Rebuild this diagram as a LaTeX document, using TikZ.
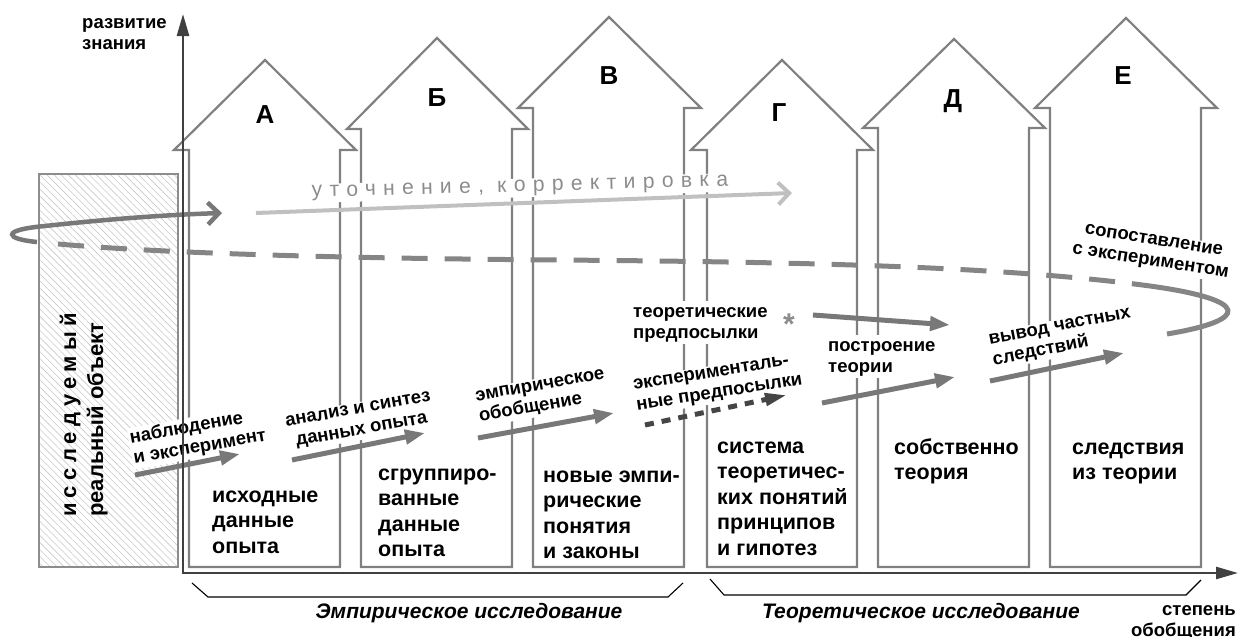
\documentclass[tikz,border=0pt]{standalone}
\usepackage{fontspec}
\setmainfont{Liberation Sans}
\usetikzlibrary{arrows.meta,patterns.meta}
\definecolor{wallc}{HTML}{808080}
\definecolor{axisc}{HTML}{404040}
\definecolor{arrc}{HTML}{787878}
\definecolor{dashc}{HTML}{858585}
\definecolor{lightc}{HTML}{C0C0C0}
\definecolor{darkdash}{HTML}{454545}
\definecolor{txtgray}{HTML}{8C8C8C}
\definecolor{hatchc}{HTML}{C8C8C8}
\newcommand\bodyfont{\fontsize{21.5}{25.6}\selectfont\bfseries}
\newcommand\lblfont{\fontsize{18.5}{21}\selectfont\bfseries}
\newcommand\letterfont{\fontsize{26}{30}\selectfont\bfseries}
\newcommand\objfont{\fontsize{22}{27}\selectfont\bfseries}
\newcommand\brfont{\fontsize{21}{25}\selectfont\bfseries\itshape}
\begin{document}
\begin{tikzpicture}[x=1pt,y=-1pt,
  wall/.style={draw=wallc, line width=2.2pt, line join=miter},
  bodytext/.style={anchor=north west, inner sep=0pt, align=left, font=\bodyfont},
  letter/.style={anchor=base, inner sep=0pt, font=\letterfont},
  lbl/.style={inner sep=0pt, align=left, font=\lblfont},
  rotlbl/.style={fill=white, inner sep=1.5pt, font=\lblfont},
  thickarrow/.style={draw=arrc, line width=5pt, -{Triangle[length=20pt,width=14pt]}},
  barbarrow/.style={-{Straight Barb[length=11pt,width=22pt]}},
  bracket/.style={draw=black, line width=1.1pt},
  ]
\useasboundingbox (0,0) rectangle (1240,637);

% studied real object
\draw[draw=wallc!90, line width=2pt, pattern={Lines[angle=-45,distance=5pt,line width=0.6pt]}, pattern color=hatchc] (39,174) rectangle (178,567);
\node[font=\objfont, rotate=90, anchor=north west, align=left, inner sep=0pt] (objtxt) at (57,517)
  {\strut{\addfontfeature{LetterSpace=24}исследуемый}\\реальный объект};

% houses
\draw[wall] (189,567) -- (189,150) -- (174,150) -- (265,60) -- (356,150) -- (340,150) -- (340,567) -- cycle;
\draw[wall] (361,567) -- (361,129) -- (347,129) -- (437,38) -- (528,129) -- (512,129) -- (512,567) -- cycle;
\draw[wall] (533,567) -- (533,108) -- (518,108) -- (609,17) -- (701,108) -- (684,108) -- (684,567) -- cycle;
\draw[wall] (707,567) -- (707,150) -- (691,150) -- (782,60) -- (873,150) -- (857,150) -- (857,567) -- cycle;
\draw[wall] (878,567) -- (878,128) -- (863,128) -- (954,39) -- (1045,128) -- (1029,128) -- (1029,567) -- cycle;
\draw[wall] (1050,567) -- (1050,108) -- (1035,108) -- (1126,18) -- (1217,108) -- (1201,108) -- (1201,567) -- cycle;

\node[letter] (LA) at (265,123) {А};
\node[letter] (LB) at (437,106) {Б};
\node[letter] (LV) at (609,84) {В};
\node[letter] (LG) at (779,121) {Г};
\node[letter] (LD) at (953,107) {Д};
\node[letter] (LE) at (1123,84) {Е};

\node[bodytext] (tA) at (212,484) {\strut исходные\\данные\\опыта};
\node[bodytext] (tB) at (378,462) {\strut сгруппиро-\\ванные\\данные\\опыта};
\node[bodytext] (tV) at (543,464) {\strut новые эмпи-\\рические\\понятия\\и законы};
\node[bodytext] (tG) at (717,435) {\strut система\\теоретичес-\\ких понятий\\принципов\\и гипотез};
\node[bodytext] (tD) at (894,436) {\strut собственно\\теория};
\node[bodytext] (tE) at (1072,436) {\strut следствия\\из теории};

% labels on white
\node[rotlbl, rotate=1.5, font=\fontsize{21}{24}\selectfont\addfontfeature{LetterSpace=35}, text=txtgray] (utoch) at (520,188) {уточнение,  корректировка};
\node[rotlbl, rotate=10, align=left] (nabl) at (198,437) {наблюдение\\и эксперимент};
\node[rotlbl, rotate=10, align=center] (anal) at (360,421) {анализ и синтез\\данных опыта};
\node[rotlbl, rotate=10, align=left] (empob) at (542,397) {эмпирическое\\обобщение};
\node[rotlbl, rotate=9, align=left] (exper) at (718,384) {эксперименталь-\\ные предпосылки};
\node[rotlbl, rotate=11, align=left] (vyvod) at (1062,338) {вывод частных\\следствий};
\node[rotlbl, rotate=-9, align=center] (sopost) at (1152,252) {сопоставление\\с экспериментом};
\node[lbl, anchor=north west, fill=white, inner sep=2pt] (teorpr) at (631,300.3) {\strut теоретические\\предпосылки};
\node[lbl, anchor=north west, fill=white, inner sep=2pt] (postr) at (826,334.3) {\strut построение\\теории};
\node[font=\fontsize{30}{30}\selectfont\bfseries, text=txtgray, anchor=base, inner sep=0pt] (ast) at (789,334) {*};

% cycle line
\coordinate (loopS) at (37,242);
\coordinate (loopE) at (222,213);
\draw[draw=arrc, line width=4.5pt, barbarrow] (loopS) .. controls (5,239) and (0,230) .. (45,226) .. controls (100,220) and (160,215) .. (loopE);
\coordinate (d0) at (58,244);
\coordinate (d1) at (560,260);
\coordinate (d2) at (1150,286);
\coordinate (d3) at (1167,334);
\draw[draw=dashc, line width=5pt, dash pattern=on 26pt off 17pt] (d0) .. controls (150,252) and (300,258) .. (d1) .. controls (800,262) and (1000,266) .. (d2);
\draw[draw=dashc, line width=5pt] (d2) .. controls (1251,300) and (1251,320) .. (d3);

\coordinate (u1) at (256,213);
\coordinate (u2) at (792,193);
\draw[draw=lightc, line width=4pt, barbarrow] (u1) -- (u2);

% process arrows
\coordinate (a1s) at (135,475); \coordinate (a1e) at (240,454);
\coordinate (a2s) at (292,460); \coordinate (a2e) at (425,433);
\coordinate (a3s) at (478,438); \coordinate (a3e) at (614,413);
\coordinate (a4s) at (645,425); \coordinate (a4e) at (787,395);
\coordinate (a5s) at (813,315); \coordinate (a5e) at (950,325);
\coordinate (a6s) at (822,403); \coordinate (a6e) at (955,377);
\coordinate (a7s) at (990,381); \coordinate (a7e) at (1124,353);
\draw[thickarrow] (a1s) -- (a1e);
\draw[thickarrow] (a2s) -- (a2e);
\draw[thickarrow] (a3s) -- (a3e);
\draw[draw=darkdash, line width=5pt, dash pattern=on 9pt off 8pt, -{Triangle[length=22pt,width=12pt]}] (a4s) -- (a4e);
\draw[thickarrow] (a5s) -- (a5e);
\draw[thickarrow] (a6s) -- (a6e);
\draw[thickarrow] (a7s) -- (a7e);

% axes
\coordinate (ytip) at (183,14);
\coordinate (orig) at (183,573);
\coordinate (xtip) at (1238,573);
\draw[draw=axisc, line width=2.5pt, {Triangle[length=22pt,width=12pt]}-{Triangle[length=22pt,width=12pt]}] (ytip) -- (orig) -- (xtip);
\node[lbl, anchor=north west] (ylab) at (82,13.3) {\strut развитие\\знания};
\node[lbl, anchor=north east, align=right] (xlab) at (1236,600.3) {\strut степень\\обобщения};

% brackets
\coordinate (b1a) at (192,583); \coordinate (b1b) at (208,597);
\coordinate (b1c) at (668,597); \coordinate (b1d) at (683,583);
\coordinate (b2a) at (710,579); \coordinate (b2b) at (724,595);
\coordinate (b2c) at (1186,595); \coordinate (b2d) at (1201,580);
\draw[bracket] (b1a) -- (b1b) -- (b1c) -- (b1d);
\draw[bracket] (b2a) -- (b2b) -- (b2c) -- (b2d);
\node[font=\brfont, anchor=base, inner sep=0pt] (empres) at (469,618) {Эмпирическое исследование};
\node[font=\brfont, anchor=base, inner sep=0pt] (teorres) at (921,618) {Теоретическое исследование};
\end{tikzpicture}
\end{document}
